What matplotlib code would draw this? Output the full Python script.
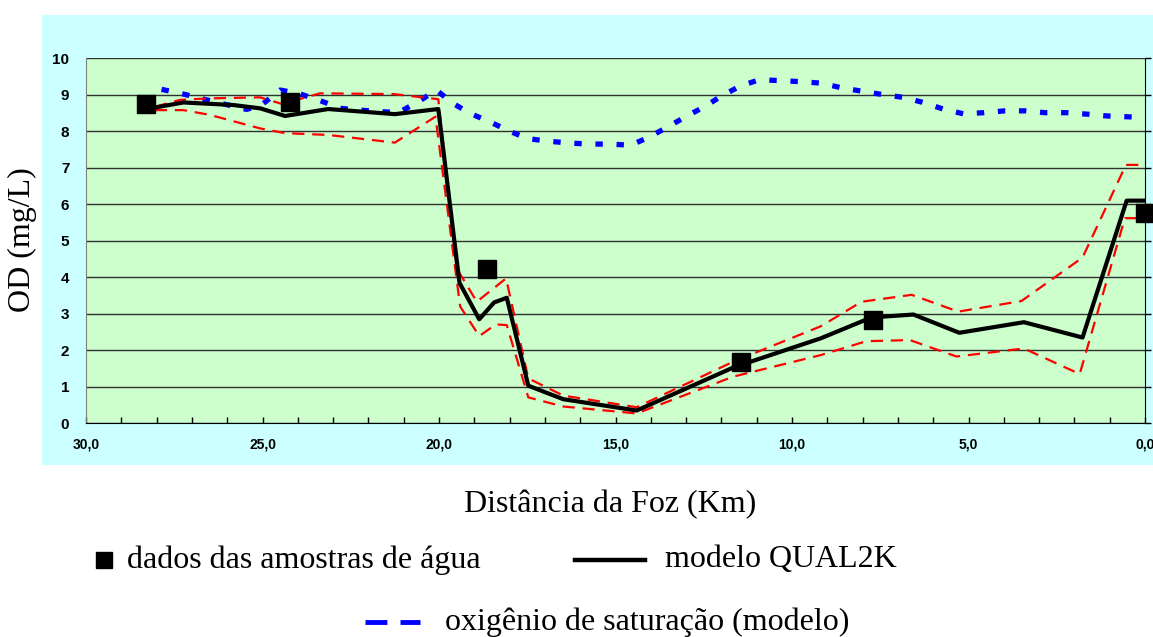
import matplotlib.pyplot as plt
from matplotlib.lines import Line2D
from matplotlib.patches import Rectangle
from matplotlib.ticker import MultipleLocator, FuncFormatter

# dados das amostras de agua
obs_km = [28.3, 24.22, 18.65, 11.45, 7.71, 0.0]
obs_od = [8.74, 8.81, 4.23, 1.67, 2.83, 5.75]

# modelo QUAL2K
mod_km = [28.05, 27.24, 25.83, 25.07, 24.36, 23.14, 21.25, 20.02, 19.42, 18.86,
          18.44, 18.08, 17.47, 16.48, 14.40, 11.66, 9.18, 7.75, 6.56, 5.26,
          3.43, 1.77, 0.52, 0.0]
mod_od = [8.65, 8.79, 8.72, 8.63, 8.42, 8.61, 8.47, 8.61, 3.85, 2.85,
          3.31, 3.44, 1.03, 0.66, 0.35, 1.53, 2.33, 2.90, 2.98, 2.48,
          2.77, 2.35, 6.10, 6.10]

# limites (tracejado vermelho)
up_km = [28.05, 27.34, 26.58, 25.07, 24.45, 23.37, 21.29, 20.02, 19.50, 18.93,
         18.10, 17.47, 16.48, 14.40, 11.66, 9.18, 8.03, 6.61, 5.29, 3.50,
         1.77, 0.54, 0.0]
up_od = [8.67, 8.86, 8.90, 8.93, 8.75, 9.04, 9.02, 8.88, 4.25, 3.33,
         3.97, 1.23, 0.76, 0.44, 1.69, 2.66, 3.33, 3.52, 3.06, 3.35,
         4.54, 7.08, 7.08]
lo_km = [28.05, 27.24, 26.49, 25.07, 24.36, 23.14, 21.25, 20.10, 19.40, 18.86,
         18.39, 18.08, 17.47, 16.48, 14.40, 11.66, 9.18, 7.89, 6.66, 5.34,
         3.43, 1.85, 0.57, 0.0]
lo_od = [8.58, 8.58, 8.45, 8.08, 7.95, 7.90, 7.69, 8.40, 3.20, 2.39,
         2.71, 2.69, 0.71, 0.46, 0.27, 1.28, 1.87, 2.25, 2.28, 1.83,
         2.05, 1.35, 5.62, 5.62]

# oxigenio de saturacao (modelo)
sat_km = [27.86, 27.24, 26.58, 25.45, 25.03, 24.50, 23.99, 23.42, 22.80, 22.24,
          21.67, 21.15, 20.59, 20.07, 19.63, 19.12, 18.56, 18.04, 17.50, 16.91,
          16.34, 15.74, 15.18, 14.57, 14.05, 13.54, 13.01, 12.49, 11.99, 11.47,
          10.93, 10.34, 9.77, 9.18, 8.59, 8.03, 7.46, 6.85, 6.28, 5.72,
          5.15, 4.56, 3.97, 3.40, 2.83, 2.22, 1.65, 1.07, 0.30]
sat_od = [9.15, 9.02, 8.86, 8.60, 8.72, 9.13, 9.04, 8.86, 8.63, 8.58,
          8.54, 8.51, 8.81, 9.13, 8.78, 8.49, 8.26, 8.02, 7.80, 7.73,
          7.68, 7.65, 7.65, 7.62, 7.84, 8.11, 8.40, 8.67, 8.97, 9.24,
          9.41, 9.39, 9.36, 9.32, 9.19, 9.10, 9.01, 8.93, 8.79, 8.61,
          8.48, 8.51, 8.56, 8.56, 8.51, 8.51, 8.47, 8.42, 8.39]

W, H = 1153, 637
fig = plt.figure(figsize=(W / 100, H / 100), dpi=100)
fig.patch.set_facecolor('white')
fig.patches.append(Rectangle((42 / W, 1 - 465 / H), (W - 42) / W, (465 - 15) / H,
                             transform=fig.transFigure, facecolor='#ccffff',
                             edgecolor='none', zorder=-10))

ax = fig.add_axes([86 / W, 1 - 423.3 / H, (1145 - 86) / W, (423.3 - 58.3) / H])
ax.set_facecolor('#ccffcc')
ax.set_xlim(30, 0)
ax.set_ylim(0, 10)

ax.grid(axis='y', color='#303030', linewidth=1)
ax.set_axisbelow(True)
ax.spines['top'].set_visible(False)
ax.spines['left'].set_color('#808080')
ax.spines['right'].set_color('black')
ax.spines['bottom'].set_color('black')

ax.xaxis.set_major_locator(MultipleLocator(5))
ax.xaxis.set_minor_locator(MultipleLocator(1))
ax.xaxis.set_major_formatter(FuncFormatter(lambda v, p: f'{v:.1f}'.replace('.', ',')))
ax.tick_params(axis='x', which='both', direction='in', length=4, width=1, pad=10,
               labelsize=10)
ax.yaxis.set_major_locator(MultipleLocator(1))
ax.tick_params(axis='y', left=False, right=True, direction='out', length=4, width=1,
               labelsize=11, pad=8)
for lab in ax.get_xticklabels() + ax.get_yticklabels():
    lab.set_fontweight('bold')
    lab.set_family('Liberation Sans')

ax.plot(sat_km, sat_od, color='blue', linewidth=3.8, dashes=(1.4, 2.6), zorder=3)
ax.plot(up_km, up_od, color='red', linewidth=1.6, dashes=(5.5, 3.5), zorder=4)
ax.plot(lo_km, lo_od, color='red', linewidth=1.6, dashes=(5.5, 3.5), zorder=4)
ax.plot(mod_km, mod_od, color='black', linewidth=3, zorder=5)
ax.plot(obs_km, obs_od, linestyle='none', marker='s', markersize=12.5,
        color='black', zorder=6, clip_on=False)

serif = 'Liberation Serif'
fs = 23
fig.text(610 / W, 1 - 505 / H, 'Distância da Foz (Km)', family=serif, fontsize=fs,
         ha='center', va='center')
fig.text(22 / W, 1 - 240 / H, 'OD (mg/L)', family=serif, fontsize=fs,
         ha='center', va='center', rotation=90)

# legenda
fig.add_artist(Line2D([103.5 / W], [1 - 560 / H], marker='s', markersize=12,
                      color='black', linestyle='none', transform=fig.transFigure))
fig.text(127 / W, 1 - 560 / H, 'dados das amostras de água', family=serif,
         fontsize=fs, va='center')
fig.add_artist(Line2D([575 / W, 645 / W], [1 - 560 / H] * 2, color='black',
                      linewidth=3.2, transform=fig.transFigure))
fig.text(665 / W, 1 - 560 / H, 'modelo QUAL2K', family=serif, fontsize=fs,
         va='center')
fig.add_artist(Line2D([365 / W, 420 / W], [1 - 622 / H] * 2, color='blue',
                      linewidth=3.5, dashes=(4.5, 2.7), transform=fig.transFigure))
fig.text(445 / W, 1 - 622 / H, 'oxigênio de saturação (modelo)', family=serif,
         fontsize=fs, va='center')

fig.savefig('out.png', dpi=100)
